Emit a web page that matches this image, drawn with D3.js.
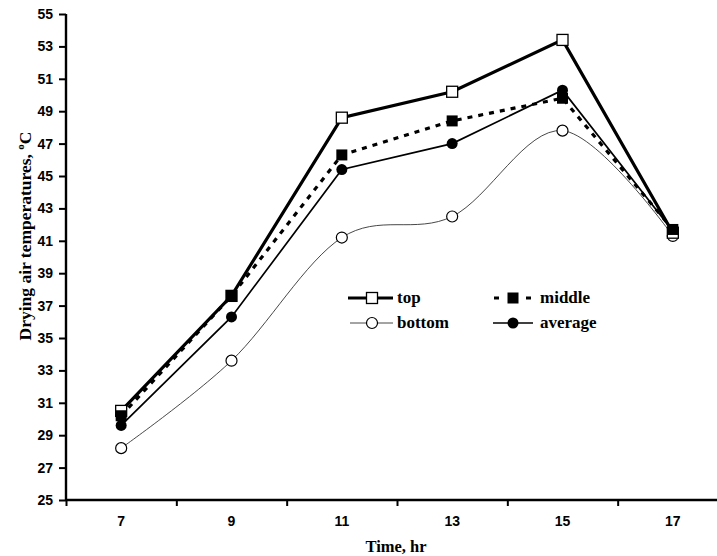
<!DOCTYPE html>
<html>
<head>
<meta charset="utf-8">
<script src="https://cdn.jsdelivr.net/npm/d3@7/dist/d3.min.js"></script>
<style>
  html, body { margin: 0; padding: 0; background: #fff; }
  svg { display: block; }
</style>
</head>
<body>
<svg id="chart" width="717" height="556"></svg>
<script>
// Drying air temperature at three positions in the dryer, plus their average
const hours = [7, 9, 11, 13, 15, 17];
const topTemps = [30.5, 37.6, 48.6, 50.2, 53.4, 41.5];
const middleTemps = [30.2, 37.6, 46.3, 48.4, 49.8, 41.7];
const bottomTemps = [28.2, 33.6, 41.2, 42.5, 47.8, 41.3];
const averageTemps = [29.6, 36.3, 45.4, 47.0, 50.3, 41.6];
const yTicks = [25, 27, 29, 31, 33, 35, 37, 39, 41, 43, 45, 47, 49, 51, 53, 55];
const xBoundaries = [6, 8, 10, 12, 14, 16, 18];

const svg = d3.select("#chart");

const x = d3.scaleLinear().domain([6, 18]).range([66, 728]);
const y = d3.scaleLinear().domain([25, 55]).range([500, 14]);

const sansBold = "'Liberation Sans', Arial, sans-serif";
const serifBold = "'Liberation Serif', 'Times New Roman', serif";

// Y axis
const yAxis = svg.append("g")
  .attr("transform", "translate(66,0)")
  .call(d3.axisLeft(y).tickValues(yTicks).tickSize(7).tickPadding(6).tickFormat(d3.format("d")));
yAxis.select(".domain").attr("stroke", "#000").attr("stroke-width", 2.4).attr("d", `M0,${y(25)}V${y(55)}`);
yAxis.selectAll(".tick line").attr("stroke", "#000").attr("stroke-width", 2);
yAxis.selectAll(".tick text")
  .attr("font-family", sansBold).attr("font-weight", "bold").attr("font-size", 14).attr("fill", "#000");

// X axis: ticks mark category boundaries, labels sit between them
const xAxis = svg.append("g")
  .attr("transform", `translate(0,${y(25)})`)
  .call(d3.axisBottom(x).tickValues(xBoundaries).tickSize(6).tickFormat(""));
xAxis.select(".domain").attr("stroke", "#000").attr("stroke-width", 2.4).attr("d", `M${x(6)},0H717`);
xAxis.selectAll(".tick line").attr("stroke", "#000").attr("stroke-width", 2);

svg.append("g").selectAll("text")
  .data(hours).join("text")
  .attr("x", d => x(d)).attr("y", y(25) + 26)
  .attr("text-anchor", "middle")
  .attr("font-family", sansBold).attr("font-weight", "bold").attr("font-size", 14)
  .text(d => d);

// Axis titles
svg.append("text")
  .attr("x", 396).attr("y", 552)
  .attr("text-anchor", "middle")
  .attr("font-family", serifBold).attr("font-weight", "bold").attr("font-size", 16.5)
  .text("Time, hr");

const yTitle = svg.append("text")
  .attr("transform", "translate(31,236) rotate(-90)")
  .attr("text-anchor", "middle")
  .attr("font-family", serifBold).attr("font-weight", "bold").attr("font-size", 17.5);
yTitle.append("tspan").text("Drying air temperatures, ");
yTitle.append("tspan").attr("dy", -7).attr("font-size", 11).text("o");
yTitle.append("tspan").attr("dy", 7).text("C");

// Series lines
const straight = d3.line().x((d, i) => x(hours[i])).y(d => y(d));
const smooth = d3.line().x((d, i) => x(hours[i])).y(d => y(d)).curve(d3.curveCatmullRom.alpha(0));

svg.append("path").attr("d", smooth(bottomTemps))
  .attr("fill", "none").attr("stroke", "#333").attr("stroke-width", 0.9);
svg.append("path").attr("d", straight(averageTemps))
  .attr("fill", "none").attr("stroke", "#000").attr("stroke-width", 1.7);
svg.append("path").attr("d", straight(middleTemps))
  .attr("fill", "none").attr("stroke", "#000").attr("stroke-width", 3.2).attr("stroke-dasharray", "5,6");
svg.append("path").attr("d", straight(topTemps))
  .attr("fill", "none").attr("stroke", "#000").attr("stroke-width", 3.2);

// Markers
svg.append("g").selectAll("circle").data(bottomTemps).join("circle")
  .attr("cx", (d, i) => x(hours[i])).attr("cy", d => y(d)).attr("r", 5.5)
  .attr("fill", "#fff").attr("stroke", "#000").attr("stroke-width", 1.2);
svg.append("g").selectAll("circle").data(averageTemps).join("circle")
  .attr("cx", (d, i) => x(hours[i])).attr("cy", d => y(d)).attr("r", 5.5)
  .attr("fill", "#000");
svg.append("g").selectAll("rect").data(topTemps).join("rect")
  .attr("x", (d, i) => x(hours[i]) - 5.5).attr("y", d => y(d) - 5.5)
  .attr("width", 11).attr("height", 11)
  .attr("fill", "#fff").attr("stroke", "#000").attr("stroke-width", 1.3);
svg.append("g").selectAll("rect").data(middleTemps).join("rect")
  .attr("x", (d, i) => x(hours[i]) - 5.5).attr("y", d => y(d) - 5.5)
  .attr("width", 11).attr("height", 11).attr("fill", "#000");

// Legend
const legend = svg.append("g");
const legendFont = g => g.attr("font-family", serifBold).attr("font-weight", "bold").attr("font-size", 17);

// top
legend.append("line").attr("x1", 348).attr("x2", 393).attr("y1", 298).attr("y2", 298)
  .attr("stroke", "#000").attr("stroke-width", 3.2);
legend.append("rect").attr("x", 366.5).attr("y", 292.5).attr("width", 11).attr("height", 11)
  .attr("fill", "#fff").attr("stroke", "#000").attr("stroke-width", 1.3);
legend.append("text").attr("x", 397).attr("y", 303).call(legendFont).text("top");

// middle
legend.append("line").attr("x1", 494).attr("x2", 532).attr("y1", 298).attr("y2", 298)
  .attr("stroke", "#000").attr("stroke-width", 3.2).attr("stroke-dasharray", "5,11");
legend.append("rect").attr("x", 507.5).attr("y", 292.5).attr("width", 11).attr("height", 11).attr("fill", "#000");
legend.append("text").attr("x", 540).attr("y", 303).call(legendFont).text("middle");

// bottom
legend.append("line").attr("x1", 350).attr("x2", 393).attr("y1", 323).attr("y2", 323)
  .attr("stroke", "#333").attr("stroke-width", 0.9);
legend.append("circle").attr("cx", 372).attr("cy", 323).attr("r", 5.5)
  .attr("fill", "#fff").attr("stroke", "#000").attr("stroke-width", 1.2);
legend.append("text").attr("x", 397).attr("y", 328).call(legendFont).text("bottom");

// average
legend.append("line").attr("x1", 493).attr("x2", 533).attr("y1", 323).attr("y2", 323)
  .attr("stroke", "#000").attr("stroke-width", 1.7);
legend.append("circle").attr("cx", 513).attr("cy", 323).attr("r", 5.5).attr("fill", "#000");
legend.append("text").attr("x", 540).attr("y", 328).call(legendFont).text("average");
</script>
</body>
</html>
